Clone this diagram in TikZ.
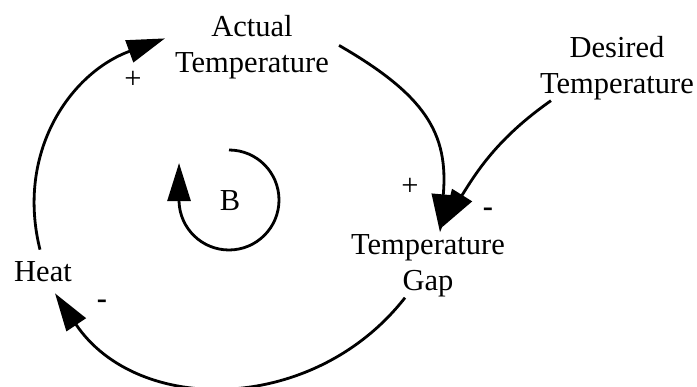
\documentclass[tikz,border=0pt]{standalone}
\usepackage{fontspec}
\setmainfont{Liberation Serif}
\usetikzlibrary{arrows.meta}
\begin{document}
\begin{tikzpicture}[x=1pt,y=1pt,
  lbl/.style={font=\fontsize{30.5}{36.5}\selectfont, inner sep=2pt, align=center},
  sgn/.style={font=\fontsize{30.5}{36.5}\selectfont, inner sep=0pt},
  neg/.style={font=\fontsize{30.5}{36.5}\selectfont\bfseries, inner sep=0pt},
  link/.style={line width=2.8pt, -{Triangle[length=38pt,width=23pt]}}]
\useasboundingbox (0,0) rectangle (697,387);
\node[lbl] (actual) at (252,339.6) {Actual\\Temperature};
\node[lbl] (desired) at (617,318.6) {Desired\\Temperature};
\node[lbl] (gap) at (428,121) {Temperature\\Gap};
\node[lbl] (heat) at (43,115) {Heat};
\node[sgn] (b) at (230,186) {B};
\node[sgn] (p1) at (133,307) {+};
\node[sgn] (p2) at (410,200) {+};
\node[neg] (m1) at (488,174.3) {-};
\node[neg] (m2) at (102,82.3) {-};
\coordinate (loopc) at (229,187);
% links
\draw[link] ([shift={(-3,10)}]heat.north) to[out=104,in=200,looseness=1.05] ([shift={(-8,9)}]actual.west);
\draw[link] ([shift={(8,2)}]actual.east) to[out=-30,in=85,looseness=1.2] ([shift={(12,0)}]gap.north);
\draw[link] ([shift={(13,2)}]desired.south west) to[out=215,in=58] ([shift={(14,5)}]gap.north);
\draw[link] ([shift={(-23,2)}]gap.south) to[out=232,in=304,looseness=1.08] ([shift={(12,-9)}]heat.south);
% loop marker
\draw[link] ([yshift=50pt]loopc) arc[start angle=90,end angle=-178,radius=50pt] -- ++(0,38.7);
\end{tikzpicture}
\end{document}
